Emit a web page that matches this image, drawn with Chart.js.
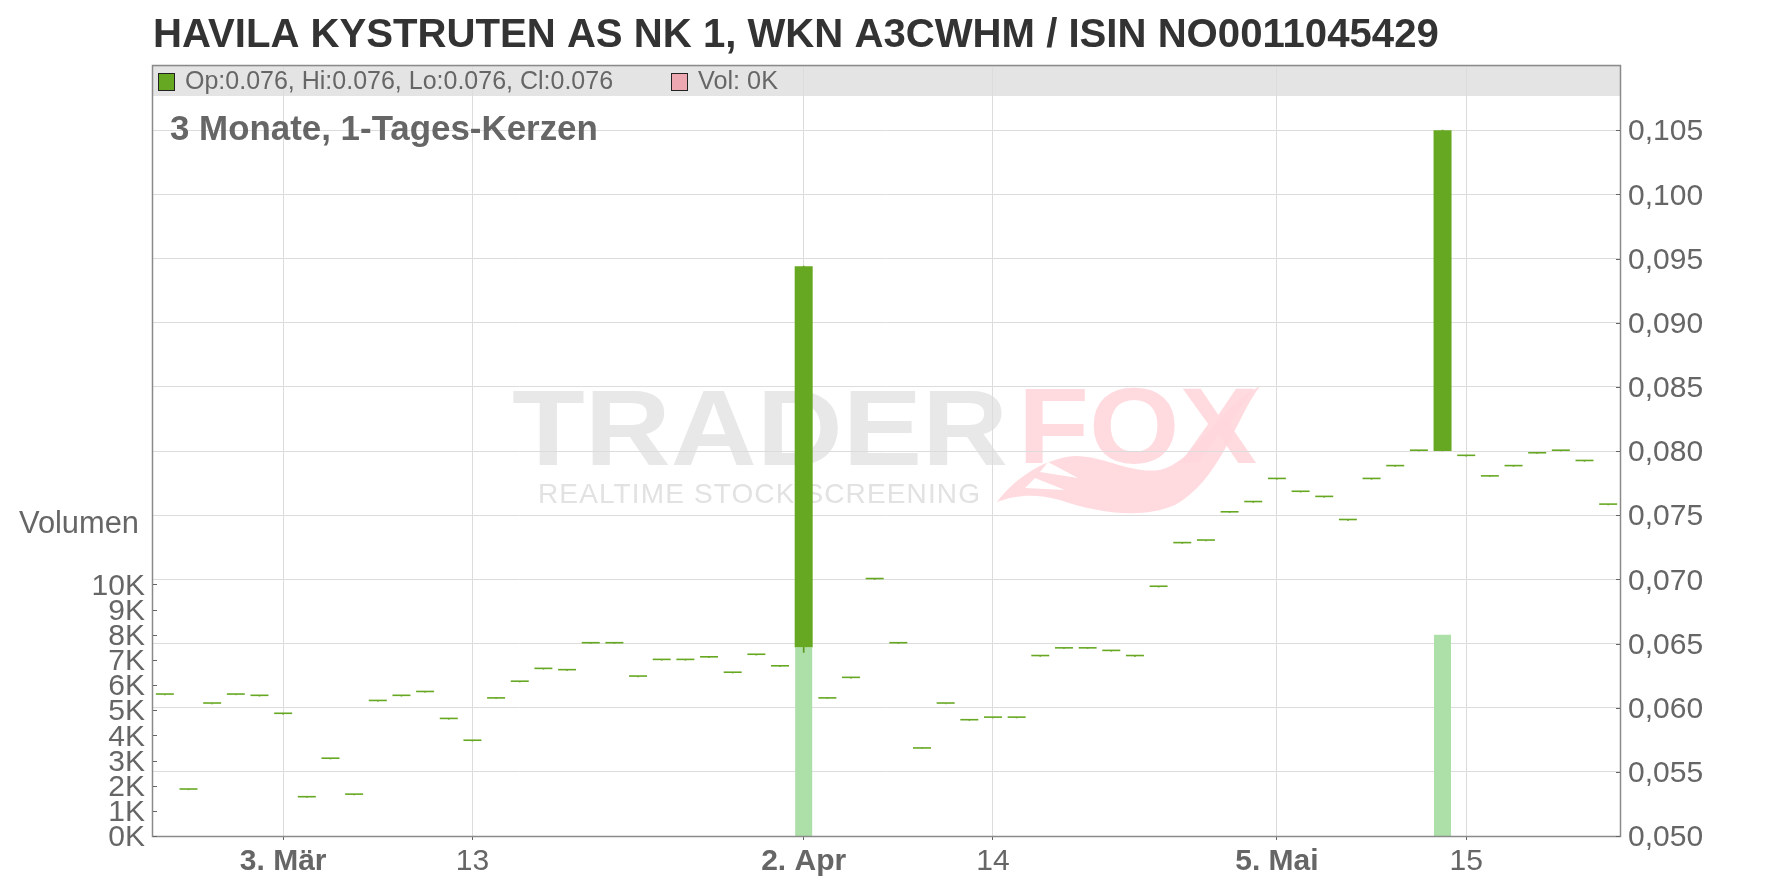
<!DOCTYPE html>
<html>
<head>
<meta charset="utf-8">
<script src="https://cdn.jsdelivr.net/npm/chart.js@4.4.1/dist/chart.umd.min.js"></script>
<style>
    html, body { margin: 0; padding: 0; background: #fff; }
    #wrap { width: 1776px; height: 888px; position: relative; }
</style>
</head>
<body>
<div id="wrap"><canvas id="myChart"></canvas></div>
<script>
// trading days (Feb 24 - May 23)
const days = [
    '24.02.', '25.02.', '26.02.', '27.02.', '28.02.', '03.03.', '04.03.', '05.03.', '06.03.', '07.03.',
    '10.03.', '11.03.', '12.03.', '13.03.', '14.03.', '17.03.', '18.03.', '19.03.', '20.03.', '21.03.',
    '24.03.', '25.03.', '26.03.', '27.03.', '28.03.', '31.03.', '01.04.', '02.04.', '03.04.', '04.04.',
    '07.04.', '08.04.', '09.04.', '10.04.', '11.04.', '14.04.', '15.04.', '16.04.', '17.04.', '22.04.',
    '23.04.', '24.04.', '25.04.', '28.04.', '29.04.', '30.04.', '02.05.', '05.05.', '06.05.', '07.05.',
    '08.05.', '09.05.', '12.05.', '13.05.', '14.05.', '15.05.', '16.05.', '19.05.', '20.05.', '21.05.',
    '22.05.', '23.05.'
];

const openPrices = [
    0.0610, 0.0536, 0.0603, 0.0610, 0.0609, 0.0595, 0.0530, 0.0560, 0.0532, 0.0605,
    0.0609, 0.0612, 0.0591, 0.0574, 0.0607, 0.0620, 0.0630, 0.0629, 0.0650, 0.0650,
    0.0624, 0.0637, 0.0637, 0.0639, 0.0627, 0.0641, 0.0632, 0.0647, 0.0607, 0.0623,
    0.0700, 0.0650, 0.0568, 0.0603, 0.0590, 0.0592, 0.0592, 0.0640, 0.0646, 0.0646,
    0.0644, 0.0640, 0.0694, 0.0728, 0.0730, 0.0752, 0.0760, 0.0778, 0.0768, 0.0764,
    0.0746, 0.0778, 0.0788, 0.0800, 0.0800, 0.0796, 0.0780, 0.0788, 0.0798, 0.0800,
    0.0792, 0.0758
];
const highPrices = [
    0.0610, 0.0536, 0.0603, 0.0610, 0.0609, 0.0595, 0.0530, 0.0560, 0.0532, 0.0605,
    0.0609, 0.0612, 0.0591, 0.0574, 0.0607, 0.0620, 0.0630, 0.0629, 0.0650, 0.0650,
    0.0624, 0.0637, 0.0637, 0.0639, 0.0627, 0.0641, 0.0632, 0.0944, 0.0607, 0.0623,
    0.0700, 0.0650, 0.0568, 0.0603, 0.0590, 0.0592, 0.0592, 0.0640, 0.0646, 0.0646,
    0.0644, 0.0640, 0.0694, 0.0728, 0.0730, 0.0752, 0.0760, 0.0778, 0.0768, 0.0764,
    0.0746, 0.0778, 0.0788, 0.0800, 0.1050, 0.0796, 0.0780, 0.0788, 0.0798, 0.0800,
    0.0792, 0.0758
];
const lowPrices = [
    0.0610, 0.0536, 0.0603, 0.0610, 0.0609, 0.0595, 0.0530, 0.0560, 0.0532, 0.0605,
    0.0609, 0.0612, 0.0591, 0.0574, 0.0607, 0.0620, 0.0630, 0.0629, 0.0650, 0.0650,
    0.0624, 0.0637, 0.0637, 0.0639, 0.0627, 0.0641, 0.0632, 0.0643, 0.0607, 0.0623,
    0.0700, 0.0650, 0.0568, 0.0603, 0.0590, 0.0592, 0.0592, 0.0640, 0.0646, 0.0646,
    0.0644, 0.0640, 0.0694, 0.0728, 0.0730, 0.0752, 0.0760, 0.0778, 0.0768, 0.0764,
    0.0746, 0.0778, 0.0788, 0.0800, 0.0800, 0.0796, 0.0780, 0.0788, 0.0798, 0.0800,
    0.0792, 0.0758
];
const closePrices = [
    0.0610, 0.0536, 0.0603, 0.0610, 0.0609, 0.0595, 0.0530, 0.0560, 0.0532, 0.0605,
    0.0609, 0.0612, 0.0591, 0.0574, 0.0607, 0.0620, 0.0630, 0.0629, 0.0650, 0.0650,
    0.0624, 0.0637, 0.0637, 0.0639, 0.0627, 0.0641, 0.0632, 0.0944, 0.0607, 0.0623,
    0.0700, 0.0650, 0.0568, 0.0603, 0.0590, 0.0592, 0.0592, 0.0640, 0.0646, 0.0646,
    0.0644, 0.0640, 0.0694, 0.0728, 0.0730, 0.0752, 0.0760, 0.0778, 0.0768, 0.0764,
    0.0746, 0.0778, 0.0788, 0.0800, 0.1050, 0.0796, 0.0780, 0.0788, 0.0798, 0.0800,
    0.0792, 0.0758
];
const volumes = [
    0, 0, 0, 0, 0, 0, 0, 0, 0, 0,
    0, 0, 0, 0, 0, 0, 0, 0, 0, 0,
    0, 0, 0, 0, 0, 0, 0, 7500, 0, 0,
    0, 0, 0, 0, 0, 0, 0, 0, 0, 0,
    0, 0, 0, 0, 0, 0, 0, 0, 0, 0,
    0, 0, 0, 0, 8000, 0, 0, 0, 0, 0,
    0, 0
];

// x axis labels
const tickIdx = [5, 13, 27, 35, 47, 55];
const tickText = ['3. Mär', '13', '2. Apr', '14', '5. Mai', '15'];
const tickBold = [true, false, true, false, true, false];
const volTicks = [0, 1000, 2000, 3000, 4000, 5000, 6000, 7000, 8000, 9000, 10000];

const FONT = "'Liberation Sans', Arial, sans-serif";
const GREEN = '#67a822';

// set font so text fits a given width
function fitFont(ctx, text, weight, width) {
    ctx.font = weight + ' 100px ' + FONT;
    const size = 100 * width / ctx.measureText(text).width;
    ctx.font = weight + ' ' + size.toFixed(2) + 'px ' + FONT;
}

function drawWatermark(ctx) {
    ctx.save();
    ctx.textBaseline = 'alphabetic';
    ctx.textAlign = 'left';
    // TRADER
    const grad = ctx.createLinearGradient(0, 388, 0, 465);
    grad.addColorStop(0, '#e8e8e8');
    grad.addColorStop(1, '#dedede');
    ctx.fillStyle = grad;
    ctx.font = 'bold 107px ' + FONT;
    let w = ctx.measureText('TRADER').width;
    ctx.save();
    ctx.translate(512, 465);
    ctx.scale(496 / w, 1);
    ctx.fillText('TRADER', 0, 0);
    ctx.restore();
    // FOX
    ctx.fillStyle = 'rgba(255, 214, 220, 0.9)';
    w = ctx.measureText('FOX').width;
    ctx.save();
    ctx.translate(1018, 463);
    ctx.scale(239 / w, 1);
    ctx.fillText('FOX', 0, 0);
    ctx.restore();
    // tail
    ctx.beginPath();
    ctx.moveTo(997, 502);
    ctx.bezierCurveTo(1015, 478, 1045, 458, 1075, 456);
    ctx.bezierCurveTo(1105, 456, 1130, 474, 1160, 470);
    ctx.bezierCurveTo(1195, 462, 1215, 410, 1260, 386);
    ctx.bezierCurveTo(1235, 420, 1220, 480, 1175, 505);
    ctx.bezierCurveTo(1140, 520, 1095, 512, 1060, 500);
    ctx.bezierCurveTo(1035, 493, 1015, 495, 997, 502);
    ctx.fill();
    // fur notches
    ctx.fillStyle = '#fff';
    ctx.beginPath();
    ctx.moveTo(1048, 462); ctx.lineTo(1078, 478); ctx.lineTo(1040, 472); ctx.closePath();
    ctx.moveTo(1035, 478); ctx.lineTo(1065, 490); ctx.lineTo(1025, 488); ctx.closePath();
    ctx.fill();
    // subtitle
    ctx.fillStyle = '#e2e2e2';
    ctx.font = '28px ' + FONT;
    const sub = 'REALTIME STOCK SCREENING';
    const natural = ctx.measureText(sub).width;
    ctx.letterSpacing = ((442 - natural) / (sub.length - 1)).toFixed(2) + 'px';
    ctx.fillText(sub, 538, 503);
    ctx.restore();
}

const chartFrame = {
    id: 'chartFrame',
    beforeDraw(chart) {
        const { ctx, chartArea: a } = chart;
        ctx.save();
        ctx.fillStyle = '#fff';
        ctx.fillRect(0, 0, chart.width, chart.height);
        // legend band
        ctx.fillStyle = '#e4e4e4';
        ctx.fillRect(a.left, a.top - 1, a.right - a.left, 31);
        drawWatermark(ctx);
        ctx.restore();
    },
    afterDraw(chart) {
        const { ctx, chartArea: a } = chart;
        const yP = chart.scales.y;
        const yV = chart.scales.yVol;
        ctx.save();
        // frame
        ctx.strokeStyle = '#8a8a8a';
        ctx.lineWidth = 1.5;
        ctx.strokeRect(a.left - 0.5, a.top - 0.5, a.right - a.left + 1, a.bottom - a.top + 1);

        // inside tick marks
        ctx.strokeStyle = '#666';
        ctx.lineWidth = 1;
        ctx.beginPath();
        yP.ticks.forEach(t => {
            if (t.value > 0.1051) return;
            const py = Math.round(yP.getPixelForValue(t.value)) + 0.5;
            ctx.moveTo(a.right - 4, py);
            ctx.lineTo(a.right, py);
        });
        volTicks.forEach(v => {
            const py = Math.round(yV.getPixelForValue(v)) + 0.5;
            ctx.moveTo(a.left, py);
            ctx.lineTo(a.left + 4, py);
        });
        ctx.stroke();

        // title
        ctx.fillStyle = '#333';
        ctx.textBaseline = 'alphabetic';
        ctx.textAlign = 'left';
        const title = 'HAVILA KYSTRUTEN AS NK 1, WKN A3CWHM / ISIN NO0011045429';
        fitFont(ctx, title, 'bold', 1286);
        ctx.fillText(title, 153, 47);

        // legend in band
        ctx.fillStyle = GREEN;
        ctx.fillRect(158, 73, 17, 18);
        ctx.strokeStyle = '#222';
        ctx.strokeRect(158.5, 73.5, 16, 17);
        ctx.fillStyle = '#eda7b0';
        ctx.fillRect(671, 73, 17, 18);
        ctx.strokeRect(671.5, 73.5, 16, 17);
        ctx.fillStyle = '#666';
        const legendText = 'Op:0.076, Hi:0.076, Lo:0.076, Cl:0.076';
        fitFont(ctx, legendText, 'normal', 428);
        ctx.fillText(legendText, 185, 89);
        fitFont(ctx, 'Vol: 0K', 'normal', 80);
        ctx.fillText('Vol: 0K', 698, 89);

        // period label
        const period = '3 Monate, 1-Tages-Kerzen';
        fitFont(ctx, period, 'bold', 428);
        ctx.fillText(period, 170, 140);

        // volume axis title
        ctx.textAlign = 'center';
        fitFont(ctx, 'Volumen', 'normal', 120);
        ctx.fillText('Volumen', 79, 533);
        ctx.restore();
    }
};

function makeChart() {
    const ctx = document.getElementById('myChart').getContext('2d');
    const bodies = days.map((d, i) => [openPrices[i], closePrices[i]]);
    const wicks = days.map((d, i) => [lowPrices[i], highPrices[i]]);

    new Chart(ctx, {
        type: 'bar',
        data: {
            labels: days,
            datasets: [
                {
                    label: 'Vol',
                    data: volumes,
                    yAxisID: 'yVol',
                    backgroundColor: '#addfa9',
                    grouped: false,
                    barPercentage: 0.72,
                    categoryPercentage: 1,
                    order: 3
                },
                {
                    label: 'Wick',
                    data: wicks,
                    yAxisID: 'y',
                    backgroundColor: '#5c9a1d',
                    grouped: false,
                    barThickness: 1,
                    order: 2
                },
                {
                    label: 'Kurs',
                    data: bodies,
                    yAxisID: 'y',
                    backgroundColor: GREEN,
                    grouped: false,
                    barPercentage: 0.76,
                    categoryPercentage: 1,
                    minBarLength: 1.6,
                    order: 1
                }
            ]
        },
        options: {
            responsive: true,
            maintainAspectRatio: false,
            animation: false,
            events: [],
            layout: { padding: { top: 66 } },
            plugins: {
                legend: { display: false },
                tooltip: { enabled: false },
                title: { display: false }
            },
            scales: {
                x: {
                    offset: true,
                    grid: {
                        offset: false,
                        color: '#dcdcdc',
                        lineWidth: 1,
                        tickLength: 4,
                        tickColor: '#666'
                    },
                    border: { display: false },
                    afterBuildTicks: (scale) => {
                        scale.ticks = tickIdx.map(i => ({ value: i }));
                    },
                    afterFit: (scale) => { scale.height = 52; },
                    ticks: {
                        autoSkip: false,
                        maxRotation: 0,
                        padding: 4,
                        color: '#666',
                        font: (c) => {
                            const k = c.tick ? tickIdx.indexOf(c.tick.value) : -1;
                            return { family: FONT, size: 30, weight: (k >= 0 && tickBold[k]) ? 'bold' : 'normal' };
                        },
                        callback: (value) => {
                            const k = tickIdx.indexOf(value);
                            return k >= 0 ? tickText[k] : '';
                        }
                    }
                },
                y: {
                    position: 'right',
                    min: 0.05,
                    max: 0.11,
                    grid: { color: '#dcdcdc', lineWidth: 1, drawTicks: false },
                    border: { display: false },
                    afterFit: (scale) => { scale.width = 156; },
                    ticks: {
                        stepSize: 0.005,
                        autoSkip: false,
                        padding: 8,
                        labelOffset: 2,
                        color: '#666',
                        font: { family: FONT, size: 30 },
                        callback: (value) => value > 0.1051 ? '' : value.toFixed(3).replace('.', ',')
                    }
                },
                yVol: {
                    position: 'left',
                    min: 0,
                    max: 30600,
                    grid: { display: false, drawTicks: false },
                    border: { display: false },
                    afterBuildTicks: (scale) => {
                        scale.ticks = volTicks.map(v => ({ value: v }));
                    },
                    afterFit: (scale) => { scale.width = 153; },
                    ticks: {
                        autoSkip: false,
                        padding: 8,
                        labelOffset: 2,
                        color: '#666',
                        font: { family: FONT, size: 30 },
                        callback: (value) => (value / 1000) + 'K'
                    }
                }
            }
        },
        plugins: [chartFrame]
    });
}

makeChart();
</script>
</body>
</html>
